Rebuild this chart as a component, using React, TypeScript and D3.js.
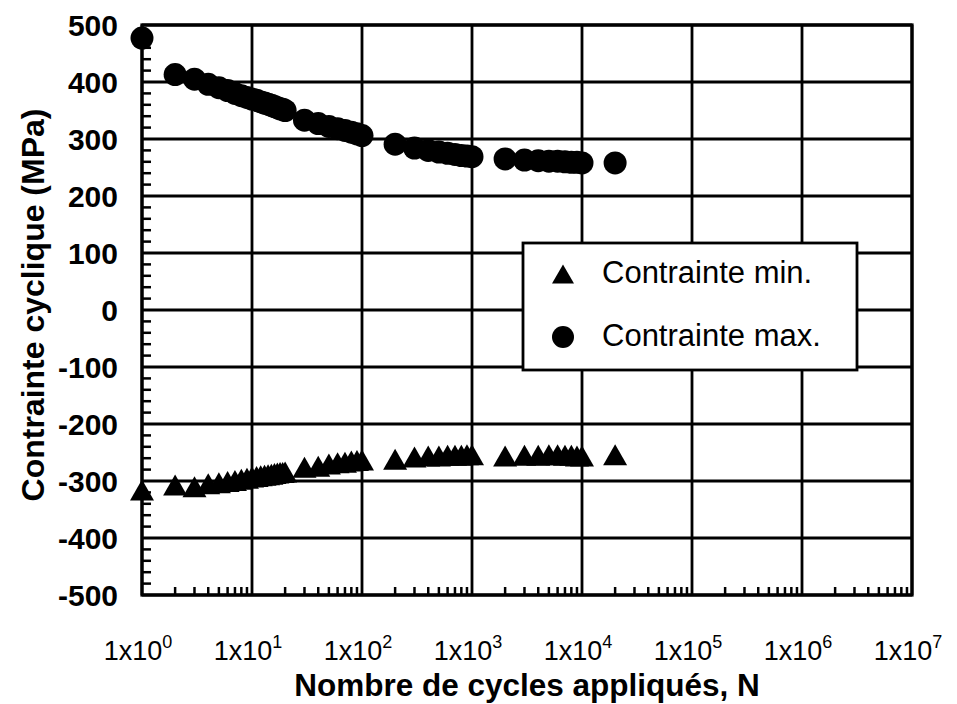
import React from "react";
import * as d3 from "d3";

const cyclesMax = [1,2,3,4,5,6,7,8,9,10,11,12,13,14,15,16,17,18,19,20,30,40,50,60,70,80,90,100,200,300,400,500,600,700,800,900,1000,2000,3000,4000,5000,6000,7000,8000,9000,10000,20000];
const stressMax = [477,413,405,396,390,385,380,376,373,370,368,365,363,361,359,357,355,353,352,350,333,327,322,318,315,312,309,306,291,284,280,277,275,273,271,270,269,265,263,262,261,261,260,259,259,258,258];
const cyclesMin = cyclesMax;
const stressMin = [-316,-307,-310,-305,-303,-301,-299,-297,-295,-293,-292,-291,-290,-289,-288,-287,-286,-285,-285,-284,-276,-274,-270,-268,-267,-265,-264,-263,-262,-258,-256,-256,-255,-255,-255,-254,-254,-256,-255,-255,-254,-254,-255,-255,-256,-256,-254];

const yTicks = [500,400,300,200,100,0,-100,-200,-300,-400,-500];
const xDecades = [0,1,2,3,4,5,6,7];
const legendLabels = ["Contrainte min.", "Contrainte max."];
const xTitle = "Nombre de cycles appliqués, N";
const yTitle = "Contrainte cyclique (MPa)";

const W = 957, H = 704;
const L = 142, R = 912, T = 25, B = 595;
const FONT = "'Liberation Sans', Arial, Helvetica, sans-serif";

function tri(cx: number, cy: number, w: number, h: number) {
  return `M${cx},${cy - h / 2}L${cx + w / 2},${cy + h / 2}L${cx - w / 2},${cy + h / 2}Z`;
}

export default function App() {
  const x = d3.scaleLog().domain([1, 1e7]).range([L, R]);
  const y = d3.scaleLinear().domain([-500, 500]).range([B, T]);

  const minorY = d3.range(-500, 501, 20).filter((v) => v % 100 !== 0);
  const minorX: number[] = [];
  for (let d = 0; d < 7; d++) for (let m = 2; m <= 9; m++) minorX.push(m * Math.pow(10, d));

  return (
    <svg width={W} height={H} style={{ position: "absolute", left: 0, top: 0, background: "#fff" }} fontFamily={FONT}>
      <rect x={0} y={0} width={W} height={H} fill="#fff" />
      {/* grid */}
      {yTicks.map((v) => (
        <line key={"gy" + v} x1={L} x2={R} y1={y(v)} y2={y(v)} stroke="#000" strokeWidth={2.8} />
      ))}
      {xDecades.map((k) => (
        <line key={"gx" + k} x1={x(Math.pow(10, k))} x2={x(Math.pow(10, k))} y1={T} y2={B} stroke="#000" strokeWidth={2.8} />
      ))}
      {/* minor ticks */}
      {minorY.map((v) => (
        <line key={"my" + v} x1={L} x2={L + 9} y1={y(v)} y2={y(v)} stroke="#000" strokeWidth={2.5} />
      ))}
      {minorX.map((v) => (
        <line key={"mx" + v} x1={x(v)} x2={x(v)} y1={B} y2={B - 8} stroke="#000" strokeWidth={2.5} />
      ))}
      <rect x={L} y={T} width={R - L} height={B - T} fill="none" stroke="#000" strokeWidth={3.2} />
      {/* y tick labels */}
      {yTicks.map((v) => (
        <text key={"ty" + v} x={118} y={y(v)} dy="0.36em" textAnchor="end" fontSize={30} fontWeight="bold">{v}</text>
      ))}
      {/* x tick labels */}
      {xDecades.map((k) => (
        <text key={"tx" + k} x={x(Math.pow(10, k)) - 4} y={660} textAnchor="middle" fontSize={27}>
          1x10<tspan fontSize={18} dy={-12}>{k}</tspan>
        </text>
      ))}
      {/* titles */}
      <text x={527} y={696} textAnchor="middle" fontSize={31.5} fontWeight="bold">{xTitle}</text>
      <text transform={`translate(44,305) rotate(-90)`} textAnchor="middle" fontSize={32} fontWeight="bold">{yTitle}</text>
      {/* data */}
      {cyclesMin.map((n, i) => (
        <path key={"pm" + i} d={tri(x(n), y(stressMin[i]), 24, 21)} fill="#000" />
      ))}
      {cyclesMax.map((n, i) => (
        <circle key={"pM" + i} cx={x(n)} cy={y(stressMax[i])} r={11.5} fill="#000" />
      ))}
      {/* legend */}
      <rect x={523} y={243} width={334} height={127} fill="#fff" stroke="#000" strokeWidth={2.8} />
      <path d={tri(563, 274, 22, 19)} fill="#000" />
      <circle cx={563} cy={337} r={11} fill="#000" />
      <text x={602} y={283} fontSize={31}>{legendLabels[0]}</text>
      <text x={602} y={346} fontSize={31}>{legendLabels[1]}</text>
    </svg>
  );
}
